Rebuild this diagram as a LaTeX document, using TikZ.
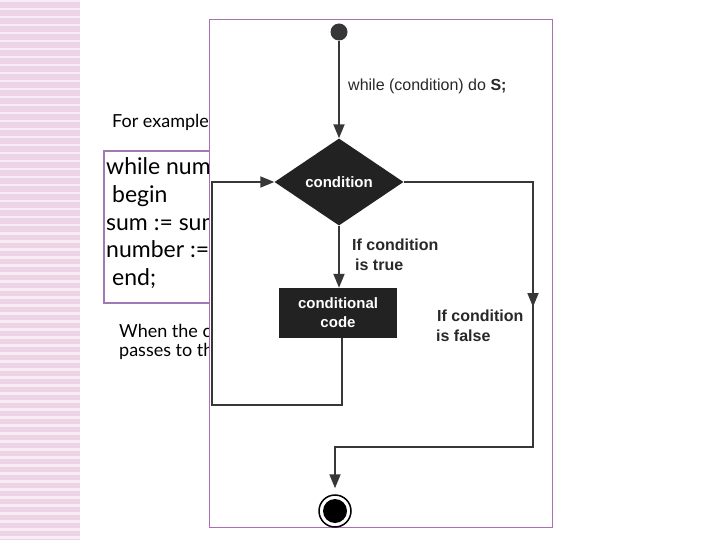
\documentclass[tikz,border=0pt]{standalone}
\usepackage{fontspec}
\setmainfont{Lato}
\newfontfamily\arialf{Liberation Sans}
\usetikzlibrary{arrows.meta,shapes.geometric}
\definecolor{stripbase}{RGB}{236,212,230}
\definecolor{stripline}{RGB}{248,236,245}
\definecolor{boxpurple}{RGB}{160,120,180}
\definecolor{panelpurple}{RGB}{170,110,180}
\definecolor{dark}{RGB}{34,34,34}
\definecolor{linegrey}{RGB}{55,55,55}
\definecolor{labelgrey}{RGB}{40,40,40}
\tikzset{
  slidetext/.style={anchor=base west, inner sep=0pt, font=\fontsize{18}{21}\selectfont},
  codetext/.style={anchor=base west, inner sep=0pt, font=\fontsize{23}{27}\selectfont},
  flowlabel/.style={anchor=base west, inner sep=0pt, text=labelgrey, font=\arialf\bfseries\fontsize{16}{19}\selectfont},
  decision/.style={diamond, fill=dark, text=white, inner sep=0pt, minimum width=129pt, minimum height=87pt, font=\arialf\bfseries\fontsize{15}{18}\selectfont},
  process/.style={rectangle, fill=dark, text=white, inner sep=0pt, minimum width=118pt, minimum height=50pt, align=center, font=\arialf\bfseries\fontsize{15}{19}\selectfont},
  flow/.style={draw=linegrey, line width=1.8pt, -{Triangle[length=14pt,width=11pt]}},
}
\begin{document}
\begin{tikzpicture}[x=1pt,y=-1pt]
\useasboundingbox (0,0) rectangle (720,540);
% left decorative strip
\fill[stripbase] (0,0) rectangle (80,540);
\foreach \yy in {0,8,...,536} \fill[stripline] (0,\yy) rectangle (80,\yy+2.5);
% slide text
\node[slidetext] (ex) at (112,128) {For example};
\draw[boxpurple, line width=1.5pt] (104,151) rectangle (214,303);
\node[codetext] (c1) at (106,175) {while num};
\node[codetext] (c2) at (112,202.5) {begin};
\node[codetext] (c3) at (106,230) {sum := sum};
\node[codetext] (c4) at (106,257.5) {number :=};
\node[codetext] (c5) at (112,285) {end;};
\node[slidetext] (w1) at (119,337) {When the c};
\node[slidetext] (w2) at (119,356) {passes to th};
% flowchart panel
\draw[panelpurple, line width=1pt, fill=white] (209,20) rectangle (552,527);
\node[circle, fill=linegrey, minimum size=17pt, inner sep=0pt] (start) at (339,32) {};
\node[anchor=west, inner sep=0pt, text=labelgrey, font=\arialf\fontsize{16}{19}\selectfont] (wlab) at (348,86) {while (condition) do \textbf{S;}};
\node[decision] (cond) at (339,182) {condition};
\node[process] (code) at (338,313) {conditional\\code};
\node[circle, draw=black, line width=1.5pt, fill=white, minimum size=32pt, inner sep=0pt] (end) at (335,511) {};
\node[circle, fill=black, minimum size=24pt, inner sep=0pt] (endin) at (end) {};
\coordinate (lb) at (212,405);
\coordinate (rc) at (533,447);
\coordinate (rtop) at (533,290);
\coordinate (rmid) at (533,307);
\draw[flow] (start) -- (cond.north);
\draw[flow] (cond.south) -- (cond.south |- code.north);
\draw[flow] ([xshift=4pt]code.south) |- (lb) |- (cond.west);
\draw[flow, shorten >=6pt] (cond.east) -| (rc) -| (end.north);
\draw[flow] (rtop) -- (rmid);
\node[flowlabel] (t1) at (352,250) {If condition};
\node[flowlabel] (t2) at (355,270) {is true};
\node[flowlabel] (f1) at (437,321) {If condition};
\node[flowlabel] (f2) at (436,341) {is false};
\end{tikzpicture}
\end{document}
